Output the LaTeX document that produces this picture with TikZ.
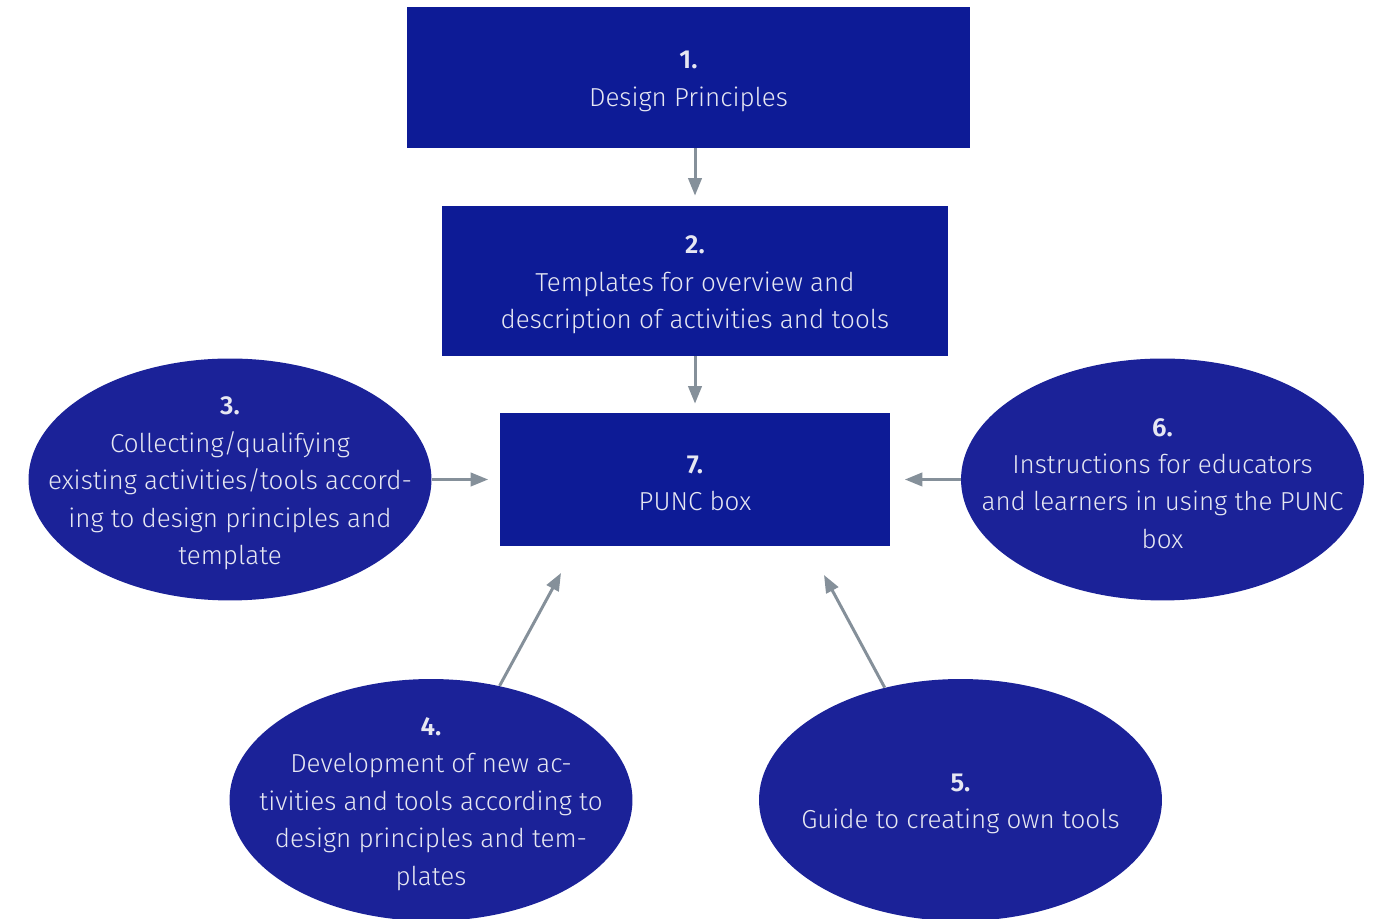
\documentclass[tikz,border=0pt]{standalone}
\usepackage{fontspec}
\setmainfont{Fira Sans}[UprightFont=* Light,BoldFont=* SemiBold]
\usetikzlibrary{shapes.geometric,arrows.meta}
\definecolor{boxblue}{HTML}{0D1B96}
\definecolor{ovalblue}{HTML}{1B2298}
\definecolor{txtwhite}{HTML}{E6E7F2}
\definecolor{arrowgray}{HTML}{85909A}

\begin{document}
\begin{tikzpicture}[x=0.02cm,y=0.02cm,
  txt/.style={text=txtwhite,align=center,yshift=-0.08cm,font=\fontsize{14.8}{21.3}\selectfont},
  block/.style={rectangle,fill=boxblue,inner sep=0pt},
  oval/.style={ellipse,fill=ovalblue,inner sep=0pt,minimum width=8.06cm,minimum height=4.84cm},
  link/.style={-{Triangle[length=10pt,width=7.6pt]},draw=arrowgray,line width=1.7pt}]
\useasboundingbox (0,0) rectangle (1376,919);
\node[block,minimum width=11.26cm,minimum height=2.82cm,label={[txt]center:{\textbf{1.}\\Design Principles}}] (b1) at (688.5,841.5) {};
\node[block,minimum width=10.14cm,minimum height=3cm,label={[txt]center:{\textbf{2.}\\Templates for overview and\\description of activities and tools}}] (b2) at (695,638) {};
\node[block,minimum width=7.82cm,minimum height=2.66cm,label={[txt]center:{\textbf{7.}\\PUNC box}}] (b7) at (695,439.5) {};
\node[oval,label={[txt]center:{\textbf{3.}\\Collecting/qualifying\\existing activities/tools accord-\\ing to design principles and\\template}}] (e3) at (230,439.5) {};
\node[oval,label={[txt]center:{\textbf{6.}\\Instructions for educators\\and learners in using the PUNC\\box}}] (e6) at (1162.5,439.5) {};
\node[oval,label={[txt]center:{\textbf{4.}\\Development of new ac-\\tivities and tools according to\\design principles and tem-\\plates}}] (e4) at (431,119) {};
\node[oval,label={[txt]center:{\textbf{5.}\\Guide to creating own tools}}] (e5) at (960.5,119) {};
\coordinate (p4) at (561,346);
\coordinate (p5) at (824,344);

\draw[link] (b1.south -| b2.north) -- ([yshift=0.2cm]b2.north);
\draw[link] (b2.south) -- ([yshift=0.18cm]b7.north);
\draw[link] (e3.east) -- ([xshift=-0.22cm]b7.west);
\draw[link] (e6.west) -- ([xshift=0.28cm]b7.east);
\draw[link] (e4.59) -- (p4);
\draw[link] (e5.124) -- (p5);
\end{tikzpicture}
\end{document}
